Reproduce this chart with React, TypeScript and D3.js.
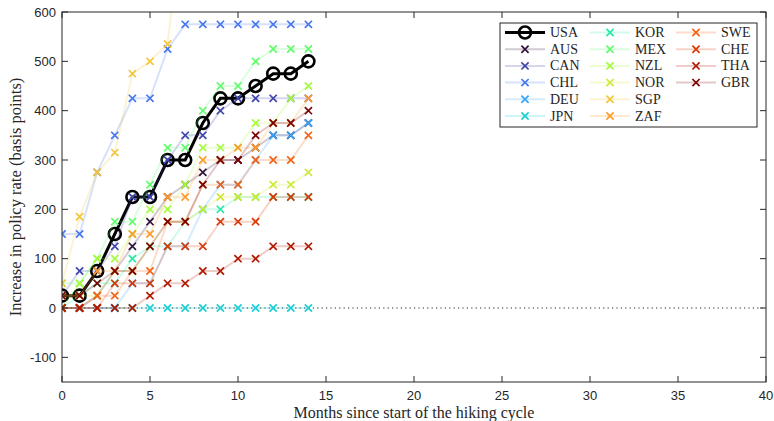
import React from "react";
import * as d3 from "d3";

// ---- Data (basis points increase, by month since start of hiking cycle) ----
const months = d3.range(15);
const USA = [25, 25, 75, 150, 225, 225, 300, 300, 375, 425, 425, 450, 475, 475, 500];
const AUS = [0, 0, 25, 75, 125, 175, 225, 250, 275, 300, 300, 325, 350, 350, 375];
const CAN = [25, 75, 75, 125, 225, 225, 300, 350, 350, 400, 425, 425, 425, 425, 425];
const CHL = [150, 150, 275, 350, 425, 425, 525, 575, 575, 575, 575, 575, 575, 575, 575];
const DEU = [0, 0, 0, 0, 50, 50, 125, 125, 200, 250, 250, 300, 350, 350, 375];
const JPN = [0, 0, 0, 0, 0, 0, 0, 0, 0, 0, 0, 0, 0, 0, 0];
const KOR = [0, 25, 50, 50, 100, 125, 125, 175, 200, 200, 225, 225, 225, 225, 225];
const MEX = [50, 50, 100, 175, 175, 250, 325, 325, 400, 450, 450, 500, 525, 525, 525];
const NZL = [0, 50, 100, 100, 150, 200, 200, 250, 325, 325, 325, 375, 375, 425, 450];
const NOR = [25, 25, 25, 75, 75, 125, 175, 175, 200, 225, 225, 225, 250, 250, 275];
const SGP = [50, 185, 275, 315, 475, 500, 535, 850];
const ZAF = [25, 25, 75, 75, 150, 150, 225, 225, 300, 300, 325, 325, 375, 375, 425];
const SWE = [0, 0, 25, 25, 75, 75, 175, 175, 250, 250, 250, 300, 300, 300, 350];
const CHE = [0, 0, 0, 50, 50, 50, 125, 125, 125, 175, 175, 175, 225, 225, 225];
const THA = [0, 0, 0, 0, 0, 25, 50, 50, 75, 75, 100, 100, 125, 125, 125];
const GBR = [25, 25, 50, 75, 75, 125, 175, 175, 250, 300, 300, 350, 375, 375, 400];

const countryNames = ["AUS", "CAN", "CHL", "DEU", "JPN", "KOR", "MEX", "NZL", "NOR", "SGP", "ZAF", "SWE", "CHE", "THA", "GBR"];
const countryValues = [AUS, CAN, CHL, DEU, JPN, KOR, MEX, NZL, NOR, SGP, ZAF, SWE, CHE, THA, GBR];
const colors = [
  "#30123b", "#4145ab", "#4677ef", "#35a4fb", "#1bcfd4", "#24eca6", "#61fc6c", "#a4fc3b",
  "#d1e834", "#f3c63a", "#fe9b2d", "#f36315", "#d93806", "#b11901", "#7a0403",
];

const xTicks = [0, 5, 10, 15, 20, 25, 30, 35, 40];
const yTicks = [-100, 0, 100, 200, 300, 400, 500, 600];
const xLabel = "Months since start of the hiking cycle";
const yLabel = "Increase in policy rate (basis points)";

const W = 774, H = 421;
const L = 62, R = 766, T = 12, B = 382;
const axisColor = "#262626";
const sans = "'Liberation Sans', Arial, sans-serif";
const serif = "'Liberation Serif', 'Times New Roman', serif";

function XMark({ cx, cy, color, s = 3.6 }: { cx: number; cy: number; color: string; s?: number }) {
  return (
    <path
      d={`M${cx - s},${cy - s}L${cx + s},${cy + s}M${cx - s},${cy + s}L${cx + s},${cy - s}`}
      stroke={color}
      strokeWidth={1.7}
      fill="none"
    />
  );
}

export default function App() {
  const x = d3.scaleLinear().domain([0, 40]).range([L, R]);
  const y = d3.scaleLinear().domain([-150, 600]).range([B, T]);
  const line = d3
    .line<number>()
    .x((_, i) => x(months[i]))
    .y((d) => y(d));

  const tick = 6;

  // legend layout
  const lgX = 500, lgY = 23, lgW = 257, lgH = 104;
  const rowH = 16.7;
  const colX = [505, 590, 676];
  const legendItems = [{ name: "USA", color: "#000", usa: true }].concat(
    countryNames.map((n, i) => ({ name: n, color: colors[i], usa: false }))
  );

  return (
    <svg
      width={W}
      height={H}
      style={{ position: "absolute", left: 0, top: 0, background: "#fff" }}
    >
      <defs>
        <clipPath id="plotClip">
          <rect x={L} y={T} width={R - L} height={B - T} />
        </clipPath>
      </defs>
      <rect x={0} y={0} width={W} height={H} fill="#fff" />

      {/* zero line */}
      <line
        x1={L}
        x2={R}
        y1={y(0)}
        y2={y(0)}
        stroke="#222"
        strokeWidth={1.2}
        strokeDasharray="1.2 3.2"
      />

      <g clipPath="url(#plotClip)">
        {/* USA */}
        <path d={line(USA) || ""} stroke="#000" strokeWidth={3} fill="none" />
        {USA.map((v, i) => (
          <circle key={"usa" + i} cx={x(months[i])} cy={y(v)} r={6} fill="none" stroke="#000" strokeWidth={2.6} />
        ))}
        {countryValues.map((vals, si) => (
          <g key={countryNames[si]}>
            <path d={line(vals) || ""} stroke={colors[si]} strokeOpacity={0.22} strokeWidth={2} fill="none" />
            {vals.map((v, i) => (
              <XMark key={i} cx={x(months[i])} cy={y(v)} color={colors[si]} />
            ))}
          </g>
        ))}
      </g>

      {/* box and ticks */}
      <rect x={L} y={T} width={R - L} height={B - T} fill="none" stroke={axisColor} strokeWidth={1} />
      {xTicks.map((t) => (
        <g key={"xt" + t}>
          <line x1={x(t)} x2={x(t)} y1={B} y2={B - tick} stroke={axisColor} />
          <line x1={x(t)} x2={x(t)} y1={T} y2={T + tick} stroke={axisColor} />
          <text x={x(t)} y={400} textAnchor="middle" fontFamily={sans} fontSize={13} fill="#262626">
            {t}
          </text>
        </g>
      ))}
      {yTicks.map((t) => (
        <g key={"yt" + t}>
          <line x1={L} x2={L + tick} y1={y(t)} y2={y(t)} stroke={axisColor} />
          <line x1={R} x2={R - tick} y1={y(t)} y2={y(t)} stroke={axisColor} />
          <text x={56} y={y(t) + 4.5} textAnchor="end" fontFamily={sans} fontSize={13} fill="#262626">
            {t}
          </text>
        </g>
      ))}

      <text x={414} y={418} textAnchor="middle" fontFamily={serif} fontSize={16} fill="#262626">
        {xLabel}
      </text>
      <text
        transform={`translate(21,${(T + B) / 2}) rotate(-90)`}
        textAnchor="middle"
        fontFamily={serif}
        fontSize={16.5}
        fill="#262626"
      >
        {yLabel}
      </text>

      {/* legend */}
      <rect x={lgX} y={lgY} width={lgW} height={lgH} fill="#fff" stroke={axisColor} strokeWidth={1} />
      {legendItems.map((it, k) => {
        const col = Math.floor(k / 6);
        const row = k % 6;
        const lx = colX[col];
        const ly = lgY + 9.5 + row * rowH;
        return (
          <g key={"lg" + it.name}>
            {it.usa ? (
              <>
                <line x1={lx} x2={lx + 40} y1={ly} y2={ly} stroke="#000" strokeWidth={3} />
                <circle cx={lx + 20} cy={ly} r={6} fill="none" stroke="#000" strokeWidth={2.6} />
              </>
            ) : (
              <>
                <line x1={lx} x2={lx + 40} y1={ly} y2={ly} stroke={it.color} strokeOpacity={0.22} strokeWidth={2} />
                <XMark cx={lx + 20} cy={ly} color={it.color} />
              </>
            )}
            <text x={lx + 45} y={ly + 4.5} fontFamily={serif} fontSize={14} fill="#262626">
              {it.name}
            </text>
          </g>
        );
      })}
    </svg>
  );
}
